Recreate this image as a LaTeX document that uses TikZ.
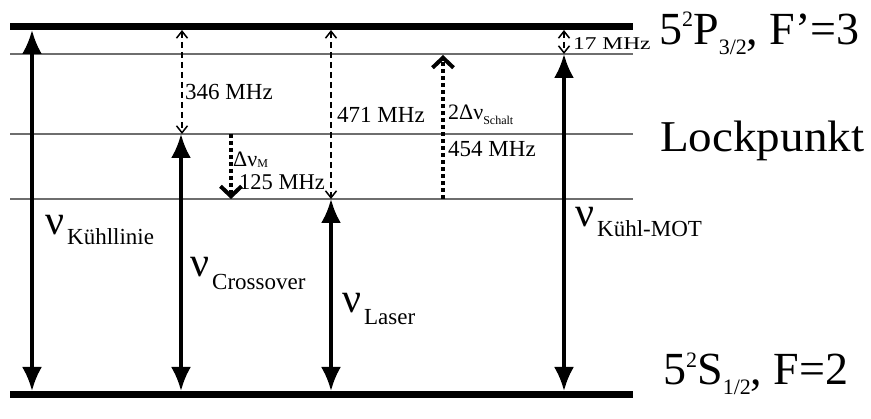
\documentclass[tikz,border=0pt]{standalone}
\usepackage{fontspec}
\setmainfont{Liberation Serif}
\usetikzlibrary{arrows.meta}
\newcommand{\fsz}[1]{\fontsize{#1}{#1}\selectfont}
\definecolor{levelgray}{RGB}{110,110,110}
\begin{document}
\begin{tikzpicture}[x=1pt,y=-1pt,
  level/.style={line width=7pt},
  sublevel/.style={line width=1.4pt, draw=levelgray},
  bigarrow/.style={line width=3.5pt, {Latex[length=24pt,width=20pt]}-{Latex[length=24pt,width=20pt]}},
  dasharrow/.style={line width=1.5pt, dash pattern=on 6pt off 4pt, {Straight Barb[length=7pt,width=11pt]}-{Straight Barb[length=7pt,width=11pt]}},
  dotarrow/.style={line width=4pt, dash pattern=on 4pt off 3pt, -{Straight Barb[length=10pt,width=21pt]}},
  lab/.style={inner sep=0pt, anchor=base west}]
\useasboundingbox (0,0) rectangle (871,419);
% levels
\draw[level] (10,26.5) -- (633,26.5);
\draw[sublevel] (10,54) -- (633,54);
\draw[sublevel] (10,134) -- (633,134);
\draw[sublevel] (10,199) -- (633,199);
\draw[level] (10,394.5) -- (633,394.5);
% coordinates
\coordinate (a1t) at (32,30);   \coordinate (a1b) at (32,391);
\coordinate (a2t) at (181,134); \coordinate (a2b) at (181,391);
\coordinate (d1t) at (182,30);  \coordinate (d1b) at (182,134);
\coordinate (m1t) at (231,134); \coordinate (m1b) at (231,199);
\coordinate (d2t) at (331,30);  \coordinate (d2b) at (331,199);
\coordinate (a3t) at (331,199); \coordinate (a3b) at (331,391);
\coordinate (s1b) at (443,199); \coordinate (s1t) at (443,55);
\coordinate (a4t) at (564,54);  \coordinate (a4b) at (564,391);
\coordinate (d3t) at (564,30);  \coordinate (d3b) at (564,54);
% arrows
\draw[bigarrow] (a1t) -- (a1b);
\draw[bigarrow] (a2t) -- (a2b);
\draw[bigarrow] (a3t) -- (a3b);
\draw[bigarrow] (a4t) -- (a4b);
\draw[dasharrow] (d1t) -- (d1b);
\draw[dasharrow] (d2t) -- (d2b);
\draw[dasharrow] (d3t) -- (d3b);
\draw[dotarrow] (m1t) -- (m1b);
\draw[dotarrow] (s1b) -- (s1t);
% labels
\node[lab] (l346) at (185,100) {\fsz{23}346 MHz};
\node[lab] (l471) at (337,123) {\fsz{23}471 MHz};
\node[lab] (ldm) at (233,167) {\fsz{22}Δν\raisebox{-1pt}{\fsz{12}M}};
\node[lab] (l125) at (239,190) {\fsz{22.5}125 MHz};
\node[lab] (lsch) at (448,120) {\fsz{22}2Δν\raisebox{-5pt}{\fsz{12}Schalt}};
\node[lab] (l454) at (448,157) {\fsz{23}454 MHz};
\node[lab] (l17) at (573,50) {\scalebox{1.3}[1]{\fsz{18}17 MHz}};
\node[lab] (llock) at (660,152) {\scalebox{1.07}[1]{\fsz{44}Lockpunkt}};
\node[lab] (lP) at (659,45) {\fsz{46}5\raisebox{18pt}{\fsz{22}2}P\raisebox{-10pt}{\fsz{22}3/2}, F’=3};
\node[lab] (lS) at (663,385) {\fsz{46}5\raisebox{17pt}{\fsz{22}2}S\raisebox{-10pt}{\fsz{22}1/2}, F=2};
\node[lab] (nk) at (45,235) {\fsz{42}ν\kern3pt\raisebox{-10pt}{\fsz{23}Kühllinie}};
\node[lab] (nc) at (190,277) {\fsz{42}ν\kern3pt\raisebox{-13pt}{\fsz{23}Crossover}};
\node[lab] (nl) at (342,313) {\fsz{42}ν\kern3pt\raisebox{-12pt}{\fsz{23}Laser}};
\node[lab] (nm) at (575,227) {\fsz{42}ν\kern3pt\raisebox{-10pt}{\fsz{23}Kühl-MOT}};
\end{tikzpicture}
\end{document}
